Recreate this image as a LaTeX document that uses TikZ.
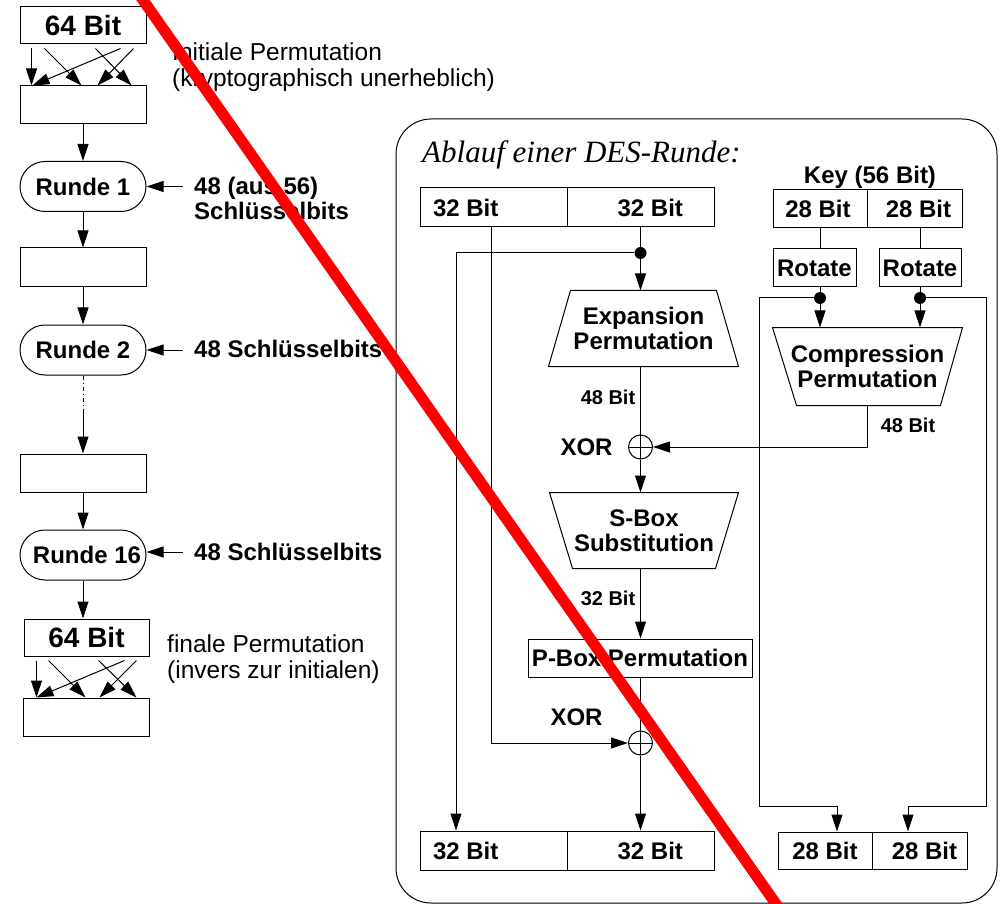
\documentclass[tikz,border=0pt]{standalone}
\usepackage{fontspec}
\setmainfont{Liberation Sans}
\newfontfamily\serifit{Liberation Serif}
\usetikzlibrary{arrows.meta,calc}
\begin{document}
\begin{tikzpicture}[x=1pt,y=-1pt,
  ln/.style={line width=1pt},
  arr/.style={line width=1pt,-{Triangle[length=17pt,width=11pt]}},
  box/.style={draw,line width=1pt,inner sep=0pt},
  bigbf/.style={font=\fontsize{28}{30}\selectfont\bfseries},
  bf/.style={font=\fontsize{24}{25}\selectfont\bfseries},
  smallbf/.style={font=\fontsize{20}{21}\selectfont\bfseries},
  plain/.style={font=\fontsize{24.5}{26}\selectfont,inner sep=0pt,align=left},
  leftbox/.style={box,minimum width=126pt,minimum height=38pt},
  runde/.style={box,bf,rounded corners=25pt,minimum width=126pt,minimum height=50pt},
  half/.style={box,bf,minimum width=147pt,minimum height=39pt},
  keyhalf/.style={box,bf,minimum width=94pt,minimum height=38pt},
  dot/.style={circle,fill,inner sep=0pt,minimum size=12pt},
  xor/.style={circle,draw,line width=1pt,inner sep=0pt,minimum size=24pt,
    path picture={\draw[line width=1pt] (path picture bounding box.north) -- (path picture bounding box.south)
      (path picture bounding box.west) -- (path picture bounding box.east);}},
  strike/.style={draw=red,line width=11pt}
]
\useasboundingbox (0,0) rectangle (1002,904);
\clip (0,0) rectangle (1002,904);

% ---------- overall DES: permutations and 16 rounds ----------
\node[box,bigbf,minimum width=126pt,minimum height=37pt] (in64) at (83,25.5) {64 Bit};
\node[leftbox] (ip) at (83,105) {};
\node[runde] (r1) at (83,186.5) {Runde 1};
\node[leftbox,minimum height=39pt] (s1) at (83,267.5) {};
\node[runde] (r2) at (83,350) {Runde 2};
\coordinate (gap) at (83,412);
\node[leftbox] (s15) at (83,473) {};
\node[runde] (r16) at (83,555) {\hspace{8pt}Runde 16};
\node[box,bigbf,minimum width=125pt,minimum height=37pt] (out64) at (86.5,637.5) {64 Bit};
\node[leftbox] (fp) at (86,717) {};

\foreach \a/\b in {12/12,25/62,101/13,76/112,114/78}
  \draw[arr] ($(in64.south west)+(\a,4)$) -- ($(ip.north west)+(\b,0)$);
\foreach \a/\b in {13/14,25/63,101/14,75/114,113/77}
  \draw[arr] ($(out64.south west)+(\a,4)$) -- ($(fp.north west)+(\b,0)$);

\draw[arr] (ip) -- (r1);
\draw[arr] (r1) -- (s1);
\draw[arr] (s1) -- (r2);
\draw[ln,dash pattern=on 4pt off 3pt on 1pt off 3pt] (r2.south) -- (gap);
\draw[arr] (gap) -- (s15);
\draw[arr] (s15) -- (r16);
\draw[arr] (r16.south) -- (r16.south |- out64.north);

\draw[arr] ($(r1.east)+(36,0)$) -- (r1.east);
\draw[arr] ($(r2.east)+(36,0)$) -- (r2.east);
\draw[arr] ($(r16.east)+(36,-3)$) -- ($(r16.east)+(0,-3)$);

% two-line labels: the base anchor sits on the last line
\node[plain,anchor=base west] (iptext) at (172,87) {Initiale Permutation\\(kryptographisch unerheblich)};
\node[plain,anchor=base west] (fptext) at (167,678) {finale Permutation\\(invers zur initialen)};
\node[bf,inner sep=0pt,align=left,anchor=base west] (k1) at (194,220) {48 (aus 56)\\Schlüsselbits};
\node[bf,inner sep=0pt,anchor=base west] (k2) at (194,357) {48 Schlüsselbits};
\node[bf,inner sep=0pt,anchor=base west] (k16) at (194,560) {48 Schlüsselbits};

% ---------- one DES round ----------
\draw[line width=1pt,rounded corners=35pt] (396,119) rectangle (997,903);
\node[font=\fontsize{31}{33}\selectfont\serifit\itshape,inner sep=0pt,anchor=base west] (title) at (422,163) {Ablauf einer DES-Runde:};

% data halves
\node[half] (tl) at (493.5,207.5) {\makebox[147pt][l]{\hspace{13pt}32 Bit}};
\node[half] (tr) at (640.5,207.5) {\makebox[147pt][r]{32 Bit\hspace{31pt}}};
\node[half] (bl) at (493.5,850.5) {\makebox[147pt][l]{\hspace{13pt}32 Bit}};
\node[half] (br) at (640.5,850.5) {\makebox[147pt][r]{32 Bit\hspace{31pt}}};

\node[dot] (d1) at (640.5,253) {};
\node[box,bf,align=center,minimum width=189pt,minimum height=75pt,draw=none] (exp) at (643.5,328.5) {Expansion\\Permutation};
\draw[line width=1pt] (exp.south west) -- (exp.south east) -- ($(exp.north east)+(-22,0)$) -- ($(exp.north west)+(22,0)$) -- cycle;
\node[xor] (x1) at (640.5,447) {};
\node[box,bf,align=center,minimum width=188pt,minimum height=75pt,draw=none] (sbox) at (644,530.5) {S-Box\\Substitution};
\draw[line width=1pt] (sbox.north west) -- (sbox.north east) -- ($(sbox.south east)+(-23,0)$) -- ($(sbox.south west)+(23,0)$) -- cycle;
\node[box,bf,minimum width=224pt,minimum height=38pt] (pbox) at (640,658) {P-Box Permutation};
\node[xor] (x2) at (640.5,743) {};

\node[bf,inner sep=0pt] (xl1) at (586.5,447) {XOR};
\node[bf,inner sep=0pt] (xl2) at (576.5,717) {XOR};
\node[smallbf,inner sep=0pt] (b48) at (608,397) {48 Bit};
\node[smallbf,inner sep=0pt] (b32) at (608,598) {32 Bit};

\draw[ln] (tr.south) -- (d1);
\draw[arr] (d1) -- (d1 |- exp.north);
\draw[arr] (d1) -- (456,253) -- (456,253 |- bl.north);
\draw[ln] (d1 |- exp.south) -- (x1.north);
\draw[arr] (x1.south) -- (x1 |- sbox.north);
\draw[arr] (x1 |- sbox.south) -- (x1 |- pbox.north);
\draw[ln] (x2 |- pbox.south) -- (x2.north);
\draw[arr] (491,227 |- tl.south) -- (491,743) -- (x2.west);
\draw[arr] (x2.south) -- (x2 |- br.north);

% key schedule
\node[bf,inner sep=0pt] (keyl) at (870,177) {Key (56 Bit)};
\node[keyhalf] (kl) at (820,209) {\hspace{-4pt}28 Bit};
\node[keyhalf,minimum width=95pt] (kr) at (914.5,209) {\hspace{8pt}28 Bit};
\node[box,bf,minimum width=83pt,minimum height=38pt] (rl) at (814.5,268) {Rotate};
\node[box,bf,minimum width=82pt,minimum height=38pt] (rr) at (920,268) {Rotate};
\node[dot] (dl) at (820,298) {};
\node[dot] (dr) at (920,298) {};
\node[box,bf,align=center,minimum width=189pt,minimum height=77pt,draw=none] (comp) at (867.5,366.5) {Compression\\Permutation};
\draw[line width=1pt] (comp.north west) -- (comp.north east) -- ($(comp.south east)+(-22,0)$) -- ($(comp.south west)+(24,0)$) -- cycle;
\node[smallbf,inner sep=0pt] (c48) at (908,425) {48 Bit};
\node[keyhalf,minimum height=37pt] (kbl) at (825,850.5) {28 Bit};
\node[keyhalf,minimum width=95pt,minimum height=37pt] (kbr) at (919.5,850.5) {\hspace{10pt}28 Bit};

\draw[ln] (kl.south) -- (kl.south |- rl.north);
\draw[ln] (rr |- kr.south) -- (rr.north);
\draw[ln] (dl |- rl.south) -- (dl);
\draw[ln] (rr.south) -- (dr);
\draw[arr] (dl) -- (dl |- comp.north);
\draw[arr] (dr) -- (dr |- comp.north);
\draw[arr] (comp.south) -- (867.5,447) -- (x1.east);
\draw[arr] (dl) -- (759,298) -- (759,806) -- (837,806) -- (837,806 |- kbl.north);
\draw[arr] (dr) -- (986,298) -- (986,806) -- (908,806) -- (908,806 |- kbr.north);

% strike-through across the whole figure
\draw[strike] (139.5,-5) -- (779.5,909);
\end{tikzpicture}
\end{document}
